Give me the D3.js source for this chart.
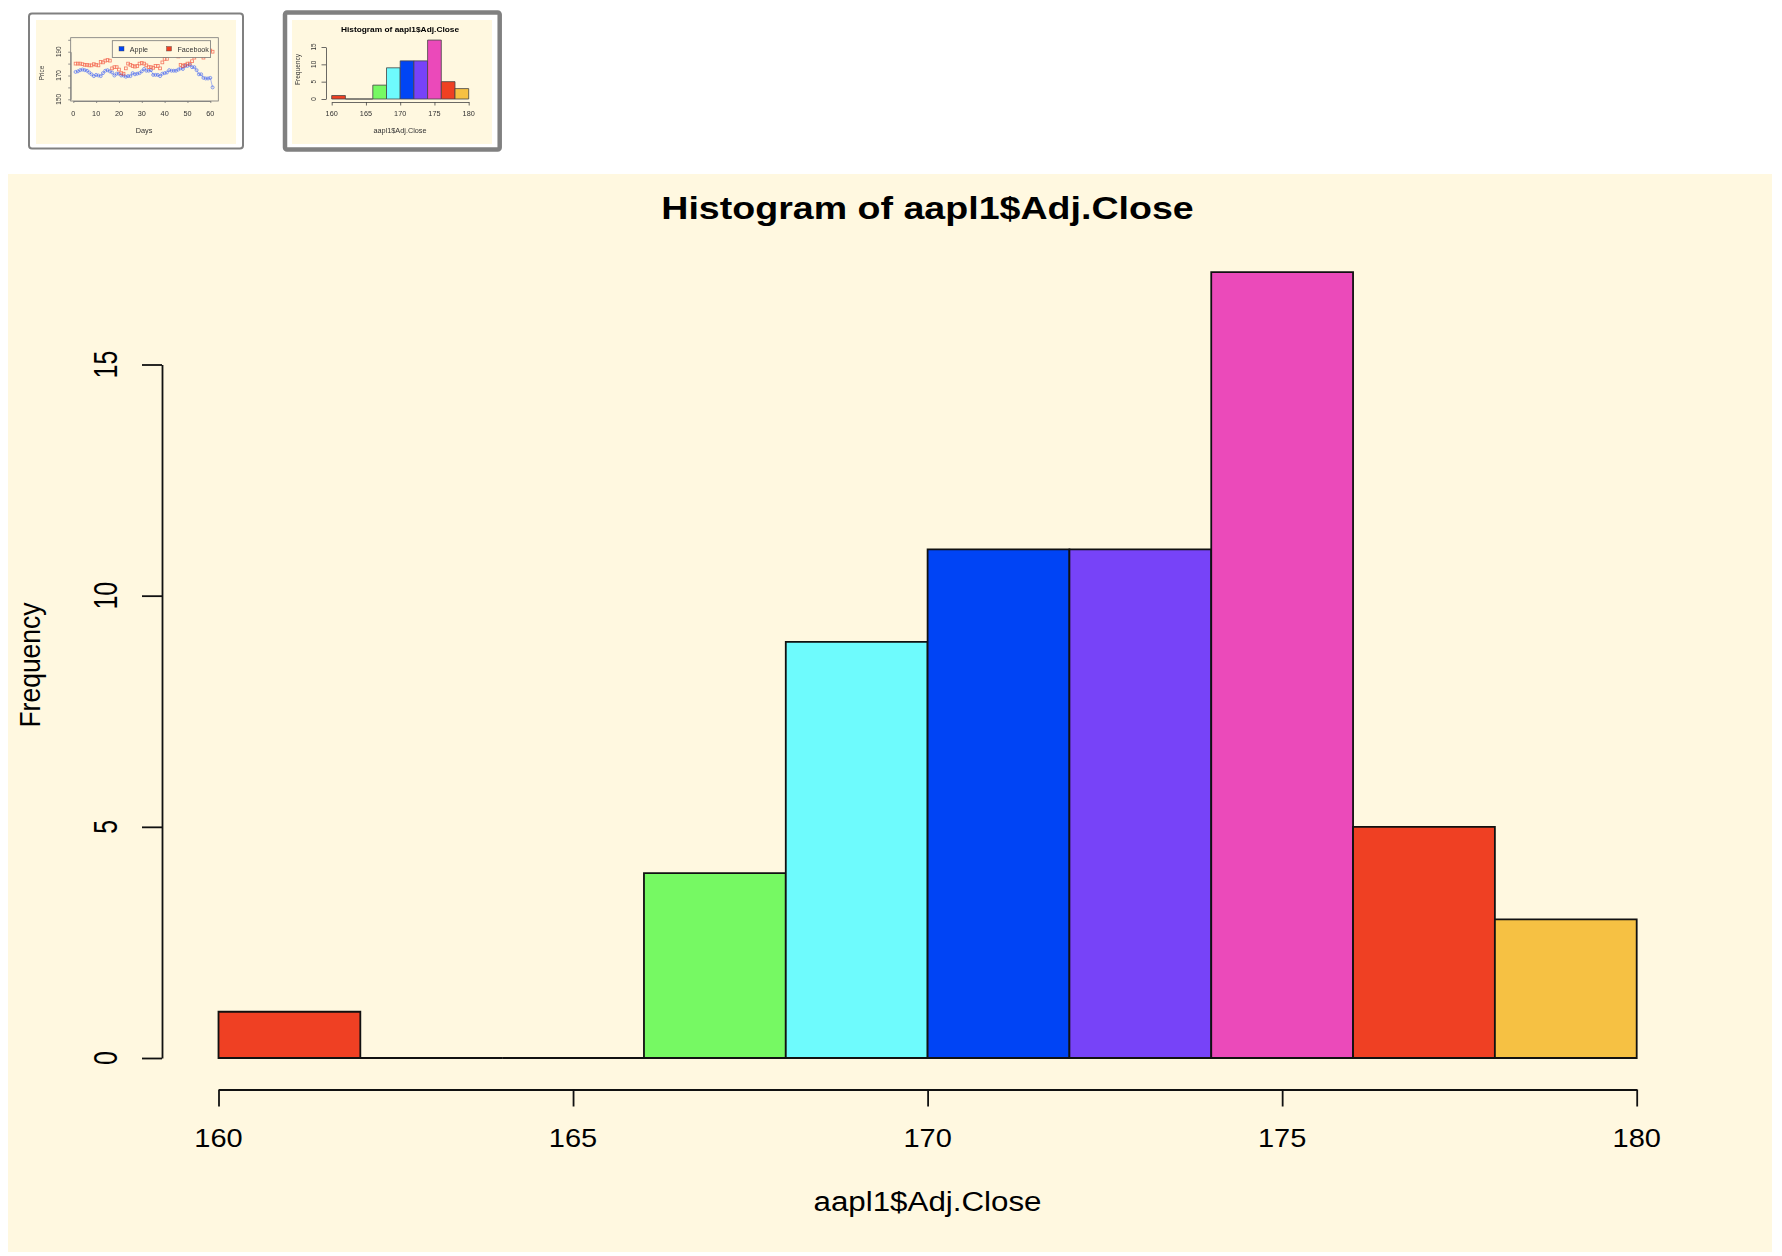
<!DOCTYPE html>
<html><head><meta charset="utf-8">
<script src="https://cdn.jsdelivr.net/npm/d3@7"></script>
<style>html,body{margin:0;padding:0;background:#fff}svg{display:block}text{font-family:"Liberation Sans",Arial,sans-serif;fill:#000}</style>
</head><body><svg id="c" width="1782" height="1256"></svg>
<script>
const binEdges=[160,162,164,166,168,170,172,174,176,178,180];
const counts=[1,0,0,4,9,11,11,17,5,3];
const barColors=["#EF4023","#EF4023","#EF4023","#76F963","#6EFBFD","#0044F5","#7743F8","#EB4ABA","#EF4023","#F6C143"];
const xTicks=[160,165,170,175,180];
const yTicks=[0,5,10,15];
const histTitle="Histogram of aapl1$Adj.Close";
const histXLabel="aapl1$Adj.Close";
const histYLabel="Frequency";
const days=d3.range(1,62);
const applePrices=[173,173.5,174.5,175,174.5,174,172.5,171,169.5,170.5,170,169.5,172,174,174.5,173.5,172.5,170,171.5,171.5,170,170,169,169.5,169.5,172,171,171.5,172,173.5,175.5,174,174,174.5,170.5,170.5,170.5,169.5,171.5,172,172.5,174.5,174,174,174,175,176,175.5,178,178,179,177,177,174.5,171,171,168,167.5,167.5,168,160];
const facebookPrices=[180,180,180,179.5,179,179,178.5,178.5,179.5,179,178.5,181.5,181,182.5,183,182.5,176,177,177,175,172,171.5,176,180,179,178,177.5,178,180,180.5,180,178.5,177,177,176.5,178,178,176,181,184,184,187,189,190,192,186,179,178,179,180,180,182,185,188,187,190,185,189,188,191,190];
const lineXTicks=[0,10,20,30,40,50,60];
const lineYTicks=[150,160,170,180,190,200];
const lineYLabelled=[150,170,190];
const legendNames=["Apple","Facebook"];
const legendColors=["#0044F5","#EF4023"];

const panel="#FFF8E0", ink="#111";
const svg=d3.select("#c");
const defs=svg.append("defs");
defs.append("filter").attr("id","soft").attr("x","-5%").attr("y","-5%").attr("width","110%").attr("height","110%")
  .append("feGaussianBlur").attr("stdDeviation",0.5);

function stretchedText(g,txt,x,y,o){
  return g.append("text").text(txt).attr("text-anchor","middle")
    .attr("font-size",o.fs).attr("font-weight",o.bold?"bold":null)
    .style("fill",o.fill||null)
    .attr("transform",`translate(${x},${y}) scale(${o.sx||1},1)`+(o.rot?" rotate(-90)":""));
}

function drawHist(g,L){
  const x=d3.scaleLinear().domain([160,180]).range([L.x160,L.x180]);
  const y=d3.scaleLinear().domain([0,15]).range([L.y0,L.y15]);
  const txt={fs:L.fs,sx:L.sx,fill:L.fill};
  g.selectAll("path.bar").data(counts).join("path").attr("class","bar")
    .attr("d",(c,i)=>{const p=d3.path();p.rect(x(binEdges[i]),y(c),x(binEdges[i+1])-x(binEdges[i]),y(0)-y(c));return p.toString();})
    .attr("fill",(c,i)=>barColors[i]).attr("stroke",L.stroke||ink).attr("stroke-width",L.sw);
  const ax=g.append("g").attr("transform",`translate(0,${L.xAxisY})`)
    .call(d3.axisBottom(x).tickValues(xTicks).tickSizeInner(L.tick).tickSizeOuter(0).tickFormat(""));
  const ay=g.append("g").attr("transform",`translate(${L.yAxisX},0)`)
    .call(d3.axisLeft(y).tickValues(yTicks).tickSizeInner(L.tickY).tickSizeOuter(0).tickFormat(""));
  [ax,ay].forEach(a=>{a.selectAll("path,line").attr("stroke",L.stroke||ink).attr("stroke-width",L.sw);});
  xTicks.forEach(t=>stretchedText(g,t,x(t),L.xLabY,txt));
  yTicks.forEach(t=>stretchedText(g,t,L.yLabX,y(t),{...txt,sx:L.rotSx,rot:true}));
  stretchedText(g,histTitle,L.cx,L.titleY,{fs:L.titleFs,sx:L.titleSx,bold:true});
  stretchedText(g,histXLabel,L.cx,L.xTitleY,{...txt,fs:L.labFs});
  stretchedText(g,histYLabel,L.freqX,L.freqY,{...txt,fs:L.freqFs,sx:L.freqSx,rot:true});
}

// frames
const frames=svg.append("g");
frames.append("rect").attr("x",29).attr("y",13.5).attr("width",214).attr("height",135).attr("rx",3)
  .attr("fill","#fff").attr("stroke","#808080").attr("stroke-width",2);
frames.append("rect").attr("x",285).attr("y",12.5).attr("width",214.7).attr("height",137).attr("rx",2)
  .attr("fill","#fff").attr("stroke","#808080").attr("stroke-width",4.5);
frames.append("rect").attr("x",36).attr("y",20).attr("width",200).attr("height",124).attr("fill",panel);
frames.append("rect").attr("x",292).attr("y",20).attr("width",200).attr("height",124).attr("fill",panel);
svg.append("rect").attr("x",8).attr("y",174).attr("width",1764).attr("height",1078).attr("fill",panel);

// thumbnail 1 : line chart
const t1=svg.append("g").attr("filter","url(#soft)");
(function(){
  const x=d3.scaleLinear().domain([0,60]).range([73.3,210.3]);
  const y=d3.scaleLinear().domain([150,190]).range([99.3,51.7]);
  const thumbs={fs:6.4,sx:1.14,fill:"#333"};
  const grey="#777";
  t1.append("rect").attr("x",70.7).attr("y",37.7).attr("width",147.6).attr("height",63.3)
    .attr("fill","none").attr("stroke",grey).attr("stroke-width",0.8);
  const line=d3.line().x((d,i)=>x(days[i])).y(d=>y(d));
  [[applePrices,"#2a50f5"],[facebookPrices,"#f0402a"]].forEach(([s,c],k)=>{
    if(k===0) t1.append("path").attr("d",line(s)).attr("fill","none").attr("stroke",c).attr("stroke-width",0.5).attr("opacity",0.8);
    const sel=t1.append("g").attr("fill","none").attr("stroke",c).attr("stroke-width",0.8).attr("opacity",0.7);
    if(k===0) sel.selectAll("circle").data(s).join("circle").attr("cx",(d,i)=>x(days[i])).attr("cy",d=>y(d)).attr("r",1.5);
    else sel.selectAll("rect").data(s).join("rect").attr("x",(d,i)=>x(days[i])-1.4).attr("y",d=>y(d)-1.4).attr("width",2.8).attr("height",2.8);
  });
  const ax=t1.append("g").attr("transform","translate(0,101)")
    .call(d3.axisBottom(x).tickValues(lineXTicks).tickSizeInner(2).tickSizeOuter(0).tickFormat(""));
  const ay=t1.append("g").attr("transform","translate(70.7,0)")
    .call(d3.axisLeft(y).tickValues(lineYTicks).tickSizeInner(2.5).tickSizeOuter(0).tickFormat(""));
  [ax,ay].forEach(a=>{a.selectAll("path,line").attr("stroke",grey).attr("stroke-width",0.8);});
  lineXTicks.forEach(t=>stretchedText(t1,t,x(t),116,thumbs));
  lineYLabelled.forEach(t=>stretchedText(t1,t,60.5,y(t),{...thumbs,rot:true}));
  stretchedText(t1,"Days",144,133,thumbs);
  stretchedText(t1,"Price",43.5,73,{...thumbs,rot:true});
  // legend
  t1.append("rect").attr("x",112.3).attr("y",40.7).attr("width",98.3).attr("height",16.7)
    .attr("fill",panel).attr("stroke",grey).attr("stroke-width",0.8);
  const lx=[121.5,169], tx=[129.7,177.5];
  legendNames.forEach((n,i)=>{
    t1.append("rect").attr("x",lx[i]-2.5).attr("y",46.5).attr("width",5).attr("height",4.5)
      .attr("fill",legendColors[i]).attr("stroke","#444").attr("stroke-width",0.4);
    t1.append("text").text(n).attr("font-size",6.4).style("fill","#333").attr("transform",`translate(${tx[i]},51.5) scale(1.12,1)`);
  });
})();

// thumbnail 2 : small histogram
drawHist(svg.append("g").attr("filter","url(#soft)"),{
  x160:331.7,x180:468.7,y0:99,y15:47,xAxisY:102,yAxisX:326,tick:3.5,tickY:4.5,sw:0.8,stroke:"#444",fill:"#333",
  fs:6.4,labFs:6.4,freqFs:6.6,sx:1.14,rotSx:1.2,freqSx:1.2,xLabY:116,yLabX:316,cx:400,titleY:31.5,titleFs:7.4,titleSx:1.13,xTitleY:133,freqX:300,freqY:69.5});

// main histogram
drawHist(svg.append("g"),{
  x160:218.5,x180:1636.7,y0:1058,y15:364.5,xAxisY:1089.5,yAxisX:162,tick:17,tickY:20,sw:1.8,
  fs:25,labFs:27,freqFs:26.5,sx:1.16,rotSx:1.3,freqSx:1.14,xLabY:1147,yLabX:117,cx:927.5,titleY:219,titleFs:30.5,titleSx:1.232,xTitleY:1211,freqX:40,freqY:665});
</script></body></html>
